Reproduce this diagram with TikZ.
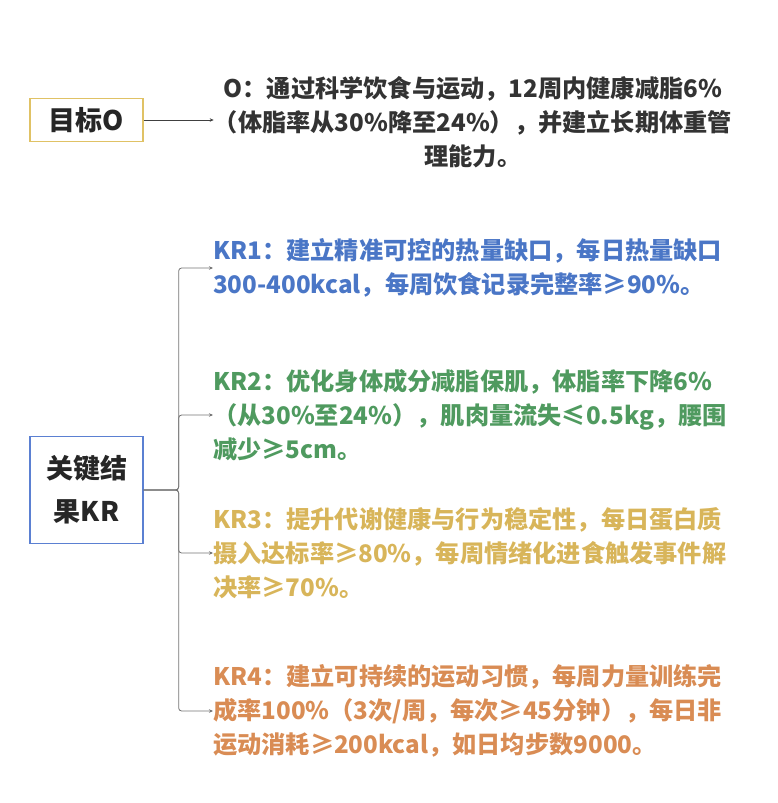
\documentclass[tikz,border=0pt]{standalone}
\usepackage{fontspec}
\setmainfont{Noto Sans CJK SC}
\usetikzlibrary{positioning, arrows.meta}
\definecolor{textgray}{HTML}{333333}
\definecolor{goalgold}{HTML}{E0C265}
\definecolor{boxblue}{HTML}{5B80D2}
\definecolor{krblue}{HTML}{4A76C6}
\definecolor{krgreen}{HTML}{4F9A5F}
\definecolor{krgold}{HTML}{D8B55A}
\definecolor{krorange}{HTML}{D98C54}

\begin{document}
\begin{tikzpicture}[x=1pt, y=-1pt,
  every node/.style={inner sep=0pt},
  headbox/.style={draw, line width=1.3pt, fill=white, minimum width=113pt,
                  font=\fontsize{27}{43}\selectfont\bfseries, align=center,
                  text=black!85},
  goaltext/.style={font=\fontsize{24.2}{34}\selectfont\bfseries,
                   color=textgray, align=center},
  krtext/.style={font=\fontsize{24.2}{34}\selectfont\bfseries,
                 align=left, anchor=west},
  arrow/.style={-{Stealth[length=4pt, width=3.5pt]}, line width=0.8pt, black!75},
  branch/.style={-{Stealth[length=4pt, width=3.5pt]}, line width=0.8pt,
                 black!55, rounded corners=3pt}]
\useasboundingbox (0,0) rectangle (778,803);
% objective
\node[headbox, draw=goalgold, minimum height=43pt] (goal) at (86.5,120) {目标O};
\node[goaltext, right=70pt of goal, yshift=-2pt] (goaltxt)
  {O：通过科学饮食与运动，12周内健康减脂6\%\\
   （体脂率从30\%降至24\%），并建立长期体重管\\
   理能力。};
\draw[arrow] (goal) -- (goal.east -| goaltxt.west);
% key results
\node[headbox, draw=boxblue, minimum height=107pt] (kr) at (86.5,490)
  {关键结\\果KR};
\node[krtext, color=krblue] (kr1) at (213,268)
  {KR1：建立精准可控的热量缺口，每日热量缺口\\
   300-400kcal，每周饮食记录完整率≥90\%。};
\node[krtext, color=krgreen] (kr2) at (213,415)
  {KR2：优化身体成分减脂保肌，体脂率下降6\%\\
   （从30\%至24\%），肌肉量流失≤0.5kg，腰围\\
   减少≥5cm。};
\node[krtext, color=krgold] (kr3) at (213,553)
  {KR3：提升代谢健康与行为稳定性，每日蛋白质\\
   摄入达标率≥80\%，每周情绪化进食触发事件解\\
   决率≥70\%。};
\node[krtext, color=krorange] (kr4) at (213,711)
  {KR4：建立可持续的运动习惯，每周力量训练完\\
   成率100\%（3次/周，每次≥45分钟），每日非\\
   运动消耗≥200kcal，如日均步数9000。};
\foreach \k in {kr1, kr2, kr3, kr4}
  \draw[branch] (kr.east) -- ++(35,0) |- (\k.west);
\end{tikzpicture}
\end{document}
